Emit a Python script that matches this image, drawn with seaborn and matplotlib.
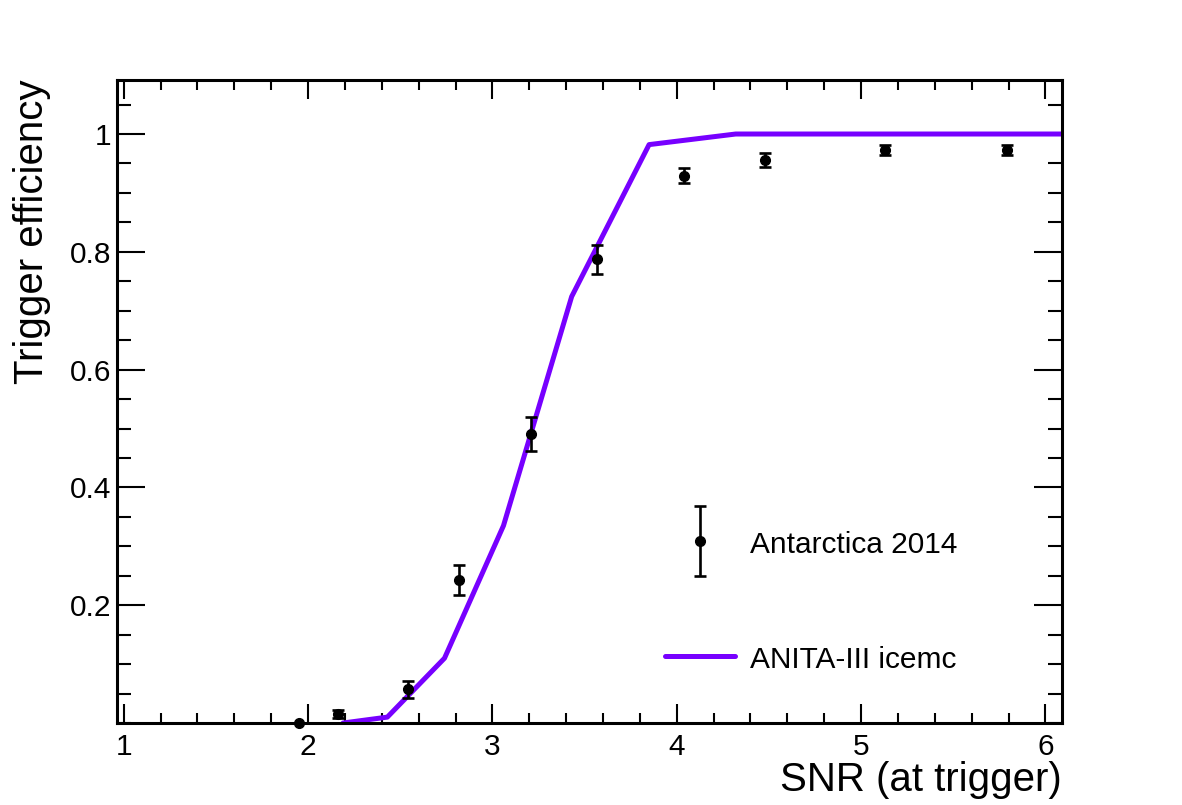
import matplotlib
matplotlib.use("Agg")
import matplotlib.pyplot as plt
import seaborn as sns
import pandas as pd
from matplotlib.ticker import MultipleLocator, FixedLocator, FixedFormatter
from matplotlib.container import ErrorbarContainer
from matplotlib.legend_handler import HandlerErrorbar

# measured trigger efficiency (Antarctica 2014)
snr_data = [1.95, 2.16, 2.54, 2.82, 3.21, 3.565, 4.04, 4.48, 5.13, 5.79]
eff_data = [0.0, 0.015, 0.057, 0.243, 0.491, 0.787, 0.929, 0.956, 0.973, 0.973]
eff_err = [0.0, 0.007, 0.015, 0.026, 0.029, 0.025, 0.013, 0.012, 0.008, 0.008]

# simulated efficiency (ANITA-III icemc)
snr_sim = [2.19, 2.43, 2.74, 3.06, 3.43, 3.85, 4.32, 6.5]
eff_sim = [0.0, 0.010, 0.110, 0.335, 0.724, 0.982, 1.0, 1.0]

y_ticks = [0.2, 0.4, 0.6, 0.8, 1.0]
y_tick_labels = ["0.2", "0.4", "0.6", "0.8", "1"]
x_ticks = [1, 2, 3, 4, 5, 6]

sim = pd.DataFrame({"snr": snr_sim, "eff": eff_sim})

sns.set_style("ticks")
plt.rcParams["font.family"] = ["Liberation Sans", "DejaVu Sans"]
plt.rcParams["text.color"] = "black"
plt.rcParams["axes.labelcolor"] = "black"
plt.rcParams["xtick.color"] = "black"
plt.rcParams["ytick.color"] = "black"

fig = plt.figure(figsize=(11.82, 8.05), dpi=100)
ax = fig.add_axes([117.3 / 1182, 1 - 723 / 805, (1062 - 117.3) / 1182, (723 - 80) / 805])

purple = "#7700ff"
sns.lineplot(data=sim, x="snr", y="eff", ax=ax, color=purple, linewidth=3.6,
             sort=False, estimator=None, zorder=2)
sim_line = ax.lines[-1]

eb = ax.errorbar(snr_data, eff_data, yerr=eff_err, fmt="o", color="black",
                 markersize=7, elinewidth=1.9, capsize=4.3, capthick=1.9,
                 zorder=3, clip_on=False)
for art in eb.lines[2]:
    art.set_clip_on(False)

ax.set_xlim(0.965, 6.09)
ax.set_ylim(0, 1.0917)

ax.xaxis.set_major_locator(FixedLocator(x_ticks))
ax.xaxis.set_minor_locator(MultipleLocator(0.2))
ax.yaxis.set_major_locator(FixedLocator(y_ticks))
ax.yaxis.set_major_formatter(FixedFormatter(y_tick_labels))
ax.yaxis.set_minor_locator(MultipleLocator(0.05))

ax.tick_params(which="both", direction="in", top=True, right=True,
               labelsize=21.5, width=1.5, color="black", labelcolor="black")
ax.tick_params(axis="x", which="major", length=14, pad=7)
ax.tick_params(axis="x", which="minor", length=7)
ax.tick_params(axis="y", which="major", length=20, pad=4)
ax.tick_params(axis="y", which="minor", length=10)

for spine in ax.spines.values():
    spine.set_linewidth(2.2)
    spine.set_color("black")

ax.set_xlabel("SNR (at trigger)", fontsize=29, loc="right", labelpad=0, color="black")
ax.set_ylabel("Trigger efficiency", fontsize=29, loc="top", labelpad=14, color="black")

ax.legend([eb, sim_line], ["Antarctica 2014", "ANITA-III icemc"],
          handler_map={ErrorbarContainer: HandlerErrorbar(yerr_size=1.17)},
          loc="center left", bbox_to_anchor=(0.58, 0.189),
          bbox_transform=ax.transAxes, frameon=False, fontsize=21.5,
          handlelength=2.35, handleheight=1.0, handletextpad=0.5,
          labelspacing=2.85, borderpad=0, borderaxespad=0, numpoints=1,
          labelcolor="black")

fig.savefig("out.png", dpi=100)
